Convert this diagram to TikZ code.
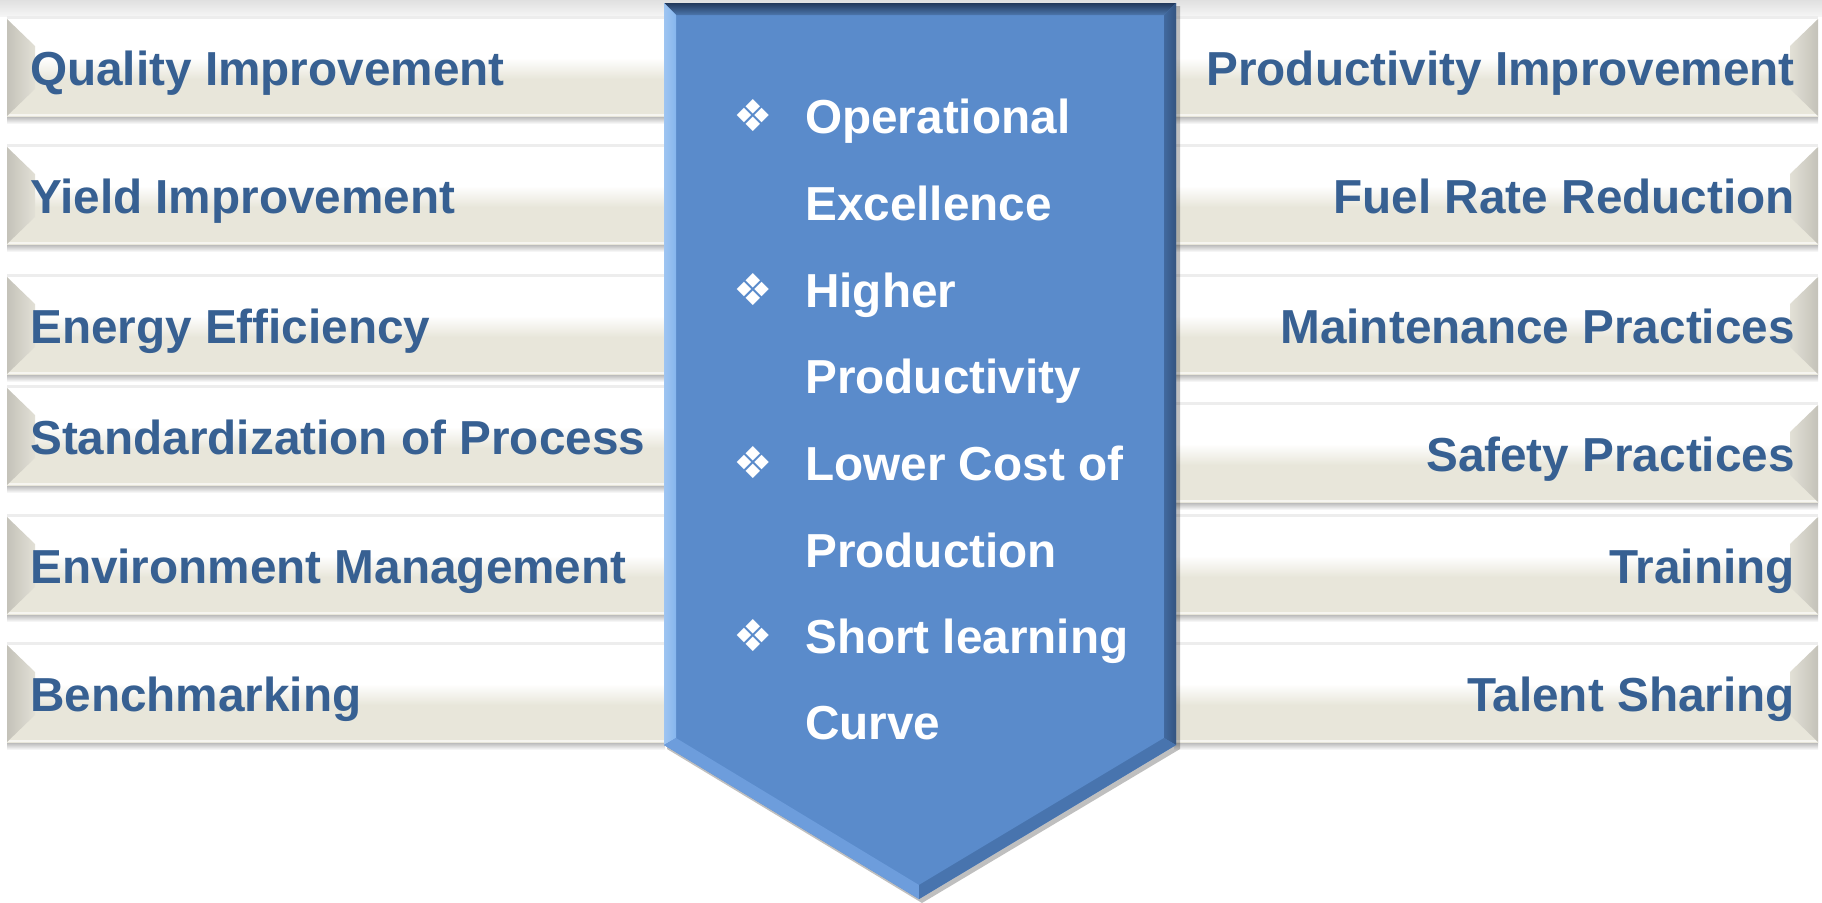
\documentclass[tikz,border=0pt]{standalone}
\usepackage{fontspec}
\setmainfont{Liberation Sans}
\newfontfamily\dejavu{DejaVu Sans}
\definecolor{txtblue}{HTML}{376092}
\definecolor{barbeige}{HTML}{E8E6DA}
\definecolor{wedgedark}{HTML}{C4C2B9}
\definecolor{wedgelight}{HTML}{E2E0D6}
\definecolor{pentfill}{HTML}{5A8BCB}
\definecolor{pentlight}{HTML}{86B6EE}
\definecolor{pentdark}{HTML}{22395C}
\definecolor{pentright}{HTML}{41699F}
\definecolor{pentbl}{HTML}{6D9DDC}
\definecolor{pentbr}{HTML}{4874AE}
\pgfdeclareverticalshading{barshade}{100bp}{color(0bp)=(barbeige); color(25bp)=(barbeige); color(44bp)=(barbeige); color(55bp)=(white); color(100bp)=(white)}
\newcommand\barL[3]{%
  \shade[top color=black!30, bottom color=white] (7,#1+97) rectangle (665,#1+105);
  \fill[black!7] (7,#1-3) rectangle (665,#1);
  \shade[shading=barshade] (7,#1) rectangle (665,#1+97);
  \fill[white!60!barbeige] (7,#1+95) rectangle (665,#1+97);
  \shade[left color=wedgedark, right color=wedgelight] (7,#1) -- (35,#1+27) -- (35,#1+70) -- (7,#1+97) -- cycle;
  \node[lbl, anchor=base west] (#2) at (30,#1+66) {#3};
}
\newcommand\barR[3]{%
  \shade[top color=black!30, bottom color=white] (1174,#1+97) rectangle (1818,#1+105);
  \fill[black!7] (1174,#1-3) rectangle (1818,#1);
  \shade[shading=barshade] (1174,#1) rectangle (1818,#1+97);
  \fill[white!60!barbeige] (1174,#1+95) rectangle (1818,#1+97);
  \shade[left color=wedgelight, right color=wedgedark] (1818,#1) -- (1790,#1+27) -- (1790,#1+70) -- (1818,#1+97) -- cycle;
  \node[lbl, anchor=base east] (#2) at (1795,#1+66) {#3};
}
\begin{document}
\begin{tikzpicture}[x=1pt,y=-1pt,
  lbl/.style={font=\fontsize{47.7}{57}\selectfont\bfseries, text=txtblue, inner sep=0pt},
  ctr/.style={font=\fontsize{47.7}{57}\selectfont\bfseries, text=white, inner sep=0pt, anchor=base west},
  bul/.style={font=\dejavu\fontsize{44}{50}\selectfont, text=white, inner sep=0pt, anchor=center}]
\useasboundingbox (0,0) rectangle (1822,902);
\fill[white] (0,0) rectangle (1822,902);
\shade[top color=black!12, bottom color=black!4] (0,0) rectangle (1822,16);
% left bars
\barL{19}{q}{Quality Improvement}
\barL{147}{y}{Yield Improvement}
\barL{277}{e}{Energy Efficiency}
\barL{388}{s}{Standardization of Process}
\barL{517}{env}{Environment Management}
\barL{645}{b}{Benchmarking}
% right bars
\barR{19}{p}{Productivity Improvement}
\barR{147}{f}{Fuel Rate Reduction}
\barR{277}{m}{Maintenance Practices}
\barR{405}{sp}{Safety Practices}
\barR{517}{tr}{Training}
\barR{645}{ts}{Talent Sharing}
% pentagon arrow
\fill[black, opacity=0.25] (667,6) -- (1180,6) -- (1180,749) -- (922,903) -- (667,749) -- cycle;
\fill[pentfill] (664,3) -- (1176,3) -- (1176,745) -- (919,899) -- (664,745) -- cycle;
\shade[top color=pentdark, bottom color=pentfill!85!black] (664,3) -- (1176,3) -- (1164,15) -- (676,15) -- cycle;
\shade[left color=pentlight!80!white, right color=pentlight] (664,3) -- (676,15) -- (676,738) -- (664,745) -- cycle;
\shade[left color=pentright, right color=pentright!80!black] (1176,3) -- (1164,15) -- (1164,738) -- (1176,745) -- cycle;
\fill[pentbl] (664,745) -- (676,738) -- (919,885) -- (919,899) -- cycle;
\fill[pentbr] (1176,745) -- (1164,738) -- (919,885) -- (919,899) -- cycle;
% centre text
\node[bul] (b1) at (753,116) {❖};
\node[ctr] (c1) at (805,133) {Operational};
\node[ctr] (c1b) at (805,220) {Excellence};
\node[bul] (b2) at (753,290) {❖};
\node[ctr] (c2) at (805,307) {Higher};
\node[ctr] (c2b) at (805,393) {Productivity};
\node[bul] (b3) at (753,463) {❖};
\node[ctr] (c3) at (805,480) {Lower Cost of};
\node[ctr] (c3b) at (805,567) {Production};
\node[bul] (b4) at (753,636) {❖};
\node[ctr] (c4) at (805,653) {Short learning};
\node[ctr] (c4b) at (805,739) {Curve};
\end{tikzpicture}
\end{document}
